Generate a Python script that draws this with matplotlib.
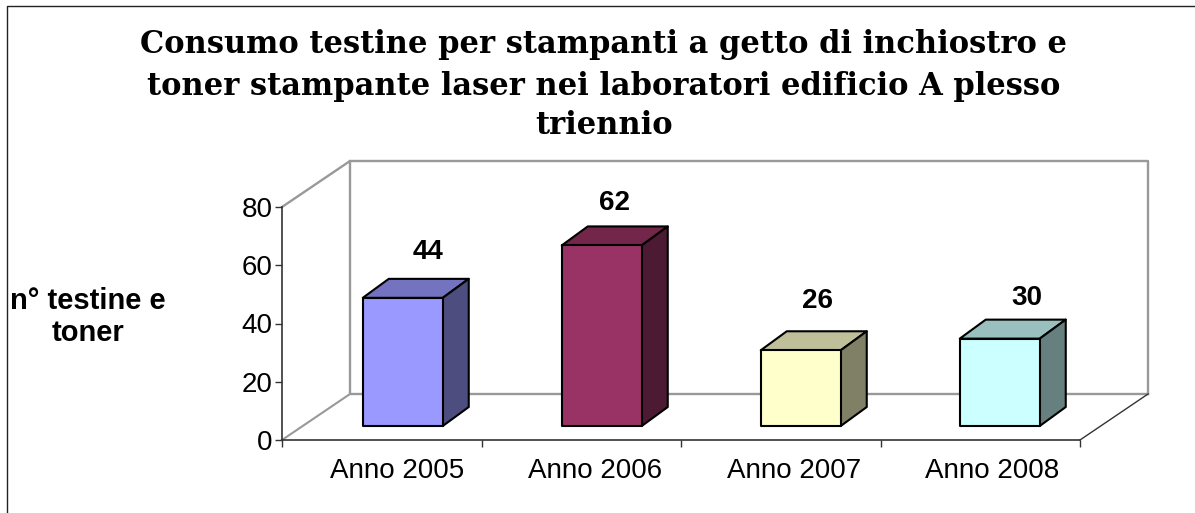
import matplotlib
matplotlib.use("Agg")
import matplotlib.pyplot as plt
from matplotlib.patches import Polygon

plt.rcParams['font.family'] = ['Liberation Sans', 'DejaVu Sans']

# Data
categories = ['Anno 2005', 'Anno 2006', 'Anno 2007', 'Anno 2008']
values = [44, 62, 26, 30]
front_colors = ['#9999FF', '#993366', '#FFFFCC', '#CCFFFF']
top_colors = ['#7373BF', '#732649', '#BFBF99', '#99BFBF']
side_colors = ['#4D4D80', '#4D1A33', '#808066', '#668080']
label_shift = [(25, 46), (13, 42), (17, 49), (27, 41)]  # pixels from bar front top centre

W, H = 1195, 513
fig = plt.figure(figsize=(W / 100, H / 100), dpi=100)

# Outer chart border, only left and top are visible
fig.add_artist(plt.Line2D([7 / W, 7 / W, 1], [0, 1 - 5.5 / H, 1 - 5.5 / H], color='#222222', lw=1))

title_lines = ['Consumo testine per stampanti a getto di inchiostro e',
               'toner stampante laser nei laboratori edificio A plesso',
               'triennio']
for line, y in zip(title_lines, [45, 86, 125]):
    fig.text(604 / W, 1 - y / H, line, family='DejaVu Serif', weight='bold', fontsize=22,
             ha='center', va='center')

# Axes are the front plane of the 3D box
ax = fig.add_axes([282 / W, 1 - 440 / H, (1080 - 282) / W, (440 - 207) / H])
ax.set_xlim(0, 4)
ax.set_ylim(0, 80)
ax.patch.set_alpha(0)
px_x = 4 / (1080 - 282)
px_y = 80 / (440 - 207)
depth_x = 68 * px_x
depth_y = 46 * px_y

for s in ['top', 'right']:
    ax.spines[s].set_visible(False)
for s in ['left', 'bottom']:
    ax.spines[s].set_color('#333333')
    ax.spines[s].set_linewidth(1.2)

ax.set_xticks([0, 1, 2, 3, 4])
ax.set_xticklabels([])
ax.set_xticks([0.5 + 15 * px_x + i * 0.995 for i in range(4)], categories, minor=True)
ax.set_yticks([0, 20, 40, 60, 80])
ax.tick_params(axis='both', which='major', length=5, width=1, color='#333333', labelsize=20)
ax.tick_params(axis='x', which='minor', length=0, labelsize=20, pad=13)
ax.tick_params(axis='y', pad=2)

# Walls and floor
wall = '#999999'
ax.plot([0, depth_x, depth_x, 4 + depth_x], [80, 80 + depth_y, depth_y, depth_y],
        color=wall, lw=1.7, clip_on=False, zorder=1)
ax.plot([depth_x, 4 + depth_x, 4 + depth_x], [80 + depth_y, 80 + depth_y, depth_y],
        color=wall, lw=1.7, clip_on=False, zorder=1)
ax.plot([0, depth_x], [0, depth_y], color=wall, lw=1.5, clip_on=False, zorder=1)
ax.plot([4, 4 + depth_x], [0, depth_y], color='#333333', lw=1, clip_on=False, zorder=1)

# Bars with front, top and side faces
bar_w = 80 * px_x
base = 14 * px_y
off_x = 21 * px_x
side_x = 26 * px_x
side_y = 19 * px_y
for i, v in enumerate(values):
    x0 = i * 0.9975 + 0.5 + off_x - bar_w / 2
    x1 = x0 + bar_w
    y0 = base
    y1 = base + v
    faces = [
        ([(x0, y1), (x1, y1), (x1 + side_x, y1 + side_y), (x0 + side_x, y1 + side_y)], top_colors[i]),
        ([(x1, y0), (x1 + side_x, y0 + side_y), (x1 + side_x, y1 + side_y), (x1, y1)], side_colors[i]),
        ([(x0, y0), (x1, y0), (x1, y1), (x0, y1)], front_colors[i]),
    ]
    for pts, c in faces:
        ax.add_patch(Polygon(pts, closed=True, facecolor=c, edgecolor='black', lw=1.5,
                             joinstyle='round', clip_on=False, zorder=3))
    dx, dy = label_shift[i]
    ax.annotate(str(v), ((x0 + x1) / 2, y1), xytext=(dx * 0.72, dy * 0.72), textcoords='offset points',
                ha='center', va='center', fontsize=20, weight='bold', annotation_clip=False)

ax.set_ylabel('n° testine e\ntoner', rotation=0, fontsize=21, weight='bold', ha='center', va='center',
              linespacing=1.2)
ax.yaxis.set_label_coords((88 - 282) / (1080 - 282), (440 - 317) / (440 - 207))

fig.savefig('out.png', dpi=100)
